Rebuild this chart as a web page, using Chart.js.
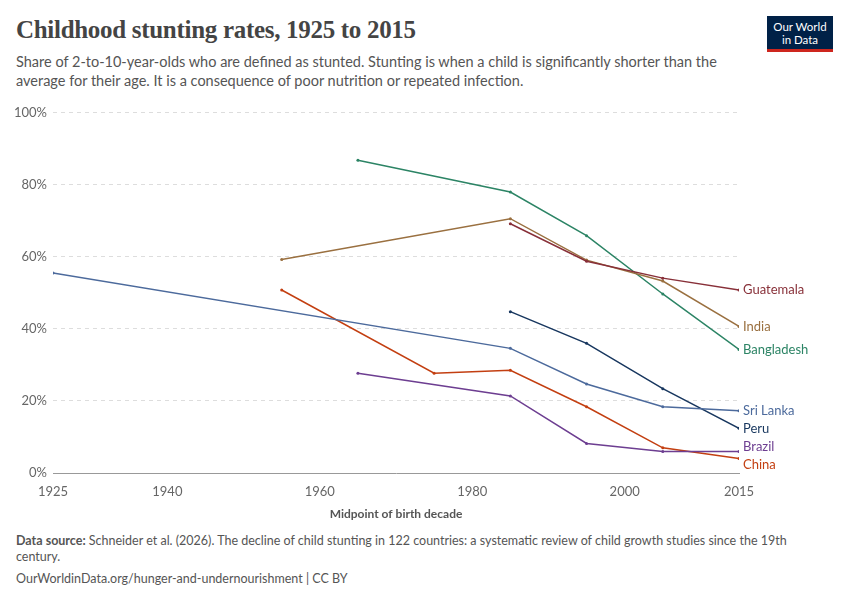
<!DOCTYPE html>
<html>
<head>
<meta charset="utf-8">
<script src="https://cdn.jsdelivr.net/npm/chart.js@4.4.0/dist/chart.umd.min.js"></script>
<style>
  body { margin: 0; width: 850px; height: 600px; background: #fff; font-family: Lato, sans-serif; position: relative; overflow: hidden; }
  h1 { position: absolute; left: 16px; top: 16px; margin: 0; font-family: "Liberation Serif", serif; font-weight: bold; font-size: 25px; color: #444; letter-spacing: -0.3px; }
  .sub { position: absolute; left: 16px; top: 52px; width: 740px; font-size: 14.5px; line-height: 19px; color: #555; }
  .logo { position: absolute; right: 17px; top: 16px; width: 66px; height: 36px; background: #002147; color: #fff; font-size: 11.5px; line-height: 13px; text-align: center; padding-top: 4px; box-sizing: border-box; border-bottom: 3px solid #ce261e; }
  #wrap { position: absolute; left: 0; top: 99px; width: 850px; height: 426px; }
  .src { position: absolute; left: 16px; top: 533px; width: 805px; font-size: 12.5px; line-height: 16px; color: #555; }
  .foot { position: absolute; left: 16px; top: 571px; font-size: 12.5px; color: #555; }
</style>
</head>
<body>
<h1>Childhood stunting rates, 1925 to 2015</h1>
<div class="sub">Share of 2-to-10-year-olds who are defined as stunted. Stunting is when a child is significantly shorter than the average for their age. It is a consequence of poor nutrition or repeated infection.</div>
<div class="logo">Our World<br>in Data</div>
<div id="wrap"><canvas id="c"></canvas></div>
<div class="src"><b>Data source:</b> Schneider et al. (2026). The decline of child stunting in 122 countries: a systematic review of child growth studies since the 19th century.</div>
<div class="foot">OurWorldinData.org/hunger-and-undernourishment | CC BY</div>
<script>
const xTicks = [1925, 1940, 1960, 1980, 2000, 2015]
const yTicks = [0, 20, 40, 60, 80, 100]

const sriLankaYears = [1925, 1985, 1995, 2005, 2015]
const sriLanka      = [55.5, 34.6, 24.7, 18.4, 17.3]
const bangladeshYears = [1965, 1985, 1995, 2005, 2015]
const bangladesh      = [86.8, 78.0, 65.9, 49.7, 34.3]
const indiaYears = [1955, 1985, 1995, 2005, 2015]
const india      = [59.3, 70.6, 59.1, 53.3, 40.7]
const guatemalaYears = [1985, 1995, 2005, 2015]
const guatemala      = [69.2, 58.8, 54.1, 50.8]
const peruYears = [1985, 1995, 2005, 2015]
const peru      = [44.8, 36.0, 23.4, 12.4]
const chinaYears = [1955, 1975, 1985, 1995, 2005, 2015]
const china      = [50.8, 27.7, 28.5, 18.4, 7.0, 4.0]
const brazilYears = [1965, 1985, 1995, 2005, 2015]
const brazil      = [27.7, 21.4, 8.2, 6.0, 6.0]

function series(label, years, vals, color, labelY) {
    return {
        label: label,
        data: years.map((y, i) => ({ x: y, y: vals[i] })),
        borderColor: color,
        backgroundColor: color,
        borderWidth: 1.5,
        pointRadius: 1.5,
        pointBorderWidth: 0,
        pointHoverRadius: 1.5,
        labelY: labelY
    }
}

const datasets = [
    series('Guatemala', guatemalaYears, guatemala, '#883039', null),
    series('India', indiaYears, india, '#9a7040', null),
    series('Bangladesh', bangladeshYears, bangladesh, '#2c8465', null),
    series('Sri Lanka', sriLankaYears, sriLanka, '#4c6a9c', null),
    series('Peru', peruYears, peru, '#18375f', null),
    series('Brazil', brazilYears, brazil, '#6d3e91', 7.3),
    series('China', chinaYears, china, '#c33f11', 2.4)
]

const endLabels = {
    id: 'endLabels',
    afterDatasetsDraw(chart) {
        const ctx = chart.ctx
        ctx.save()
        ctx.font = '13px Lato'
        ctx.textBaseline = 'middle'
        chart.data.datasets.forEach((ds) => {
            const last = ds.data[ds.data.length - 1]
            const x = chart.scales.x.getPixelForValue(last.x) + 4
            const yv = ds.labelY !== null ? ds.labelY : last.y
            const y = chart.scales.y.getPixelForValue(yv)
            ctx.fillStyle = ds.borderColor
            ctx.fillText(ds.label, x, y)
        })
        ctx.restore()
    }
}

new Chart(document.getElementById('c').getContext('2d'), {
    type: 'line',
    data: { datasets: datasets },
    options: {
        responsive: true,
        maintainAspectRatio: false,
        animation: false,
        layout: { padding: { left: 8, right: 111, top: 1, bottom: 0 } },
        plugins: { legend: { display: false }, tooltip: { enabled: false } },
        scales: {
            x: {
                type: 'linear', min: 1925, max: 2015,
                afterBuildTicks: (s) => { s.ticks = xTicks.map(v => ({ value: v })) },
                ticks: { color: '#666', font: { family: 'Lato', size: 13 }, callback: v => String(v), maxRotation: 0 },
                grid: { display: false },
                border: { color: '#999' },
                title: { display: true, text: 'Midpoint of birth decade', color: '#555', font: { family: 'Lato', size: 12, weight: 'bold' } }
            },
            y: {
                min: 0, max: 100,
                afterBuildTicks: (s) => { s.ticks = yTicks.map(v => ({ value: v })) },
                ticks: { color: '#666', font: { family: 'Lato', size: 13 }, callback: v => v + '%', padding: 6 },
                grid: { color: '#ddd', drawTicks: false },
                border: { display: false, dash: [4, 4] }
            }
        }
    },
    plugins: [endLabels]
})
</script>
</body>
</html>
